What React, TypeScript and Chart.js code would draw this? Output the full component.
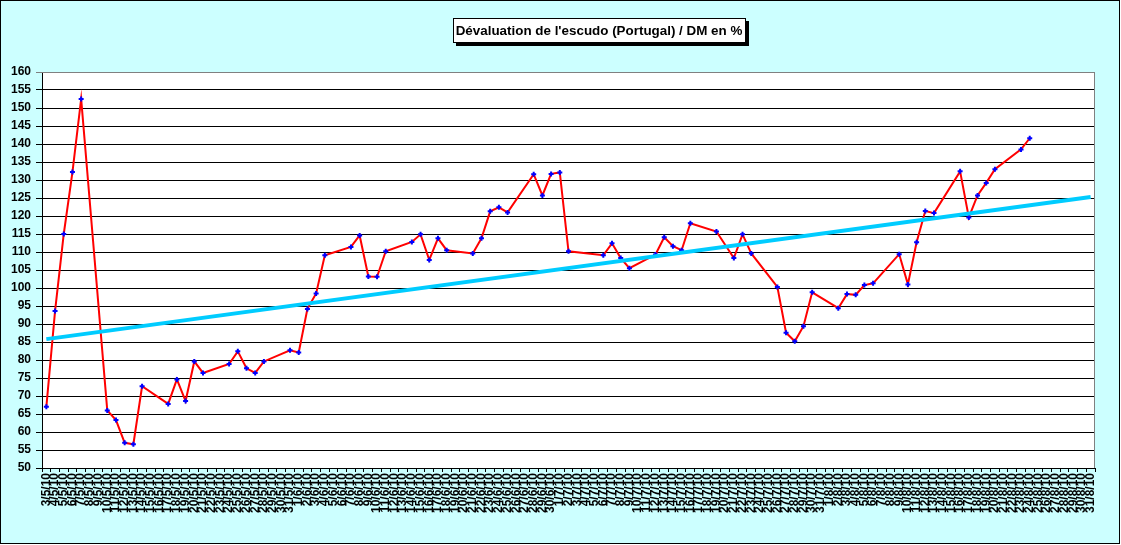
import React, { useEffect, useRef } from 'react';
import { Chart, registerables } from 'chart.js';
import type { Plugin } from 'chart.js';

Chart.register(...registerables);

// day labels, 3/5/10 .. 31/8/10 (one per calendar day)
const monthRanges = [
  { month: 5, first: 3, last: 31 },
  { month: 6, first: 1, last: 30 },
  { month: 7, first: 1, last: 31 },
  { month: 8, first: 1, last: 31 },
];
const dayLabels: string[] = [];
monthRanges.forEach(r => {
  for (let d = r.first; d <= r.last; d++) dayLabels.push(`${d}/${r.month}/10`);
});

// devaluation in %, one row per week (Mon..Sun), weekends empty
const devaluation: (number | null)[] = [
  67, 93.6, 115, 132.2, 152.5, null, null,
  66, 63.3, 57, 56.6, 72.7, null, null,
  67.8, 74.6, 68.6, 79.6, 76.4, null, null,
  78.9, 82.4, 77.7, 76.4, 79.6, null, null,
  82.7, 82.1, 94.2, 98.5, 109.1, null, null,
  111.4, 114.6, 103.2, 103.1, 110.2, null, null,
  112.8, 114.9, 107.8, 113.8, 110.5, null, null,
  109.6, 113.8, 121.3, 122.4, 121, null, null,
  131.6, 125.7, 131.7, 132.1, 110.2, null, null,
  null, 109.1, 112.4, 108.3, 105.5, null, null,
  109.3, 114.1, 111.6, 110.5, 118, null, null,
  115.7, null, 108.3, 114.9, 109.6, null, null,
  100.3, 87.6, 85.2, 89.4, 98.8, null, null,
  94.4, 98.3, 98.1, 100.8, 101.3, null, null,
  109.4, 101, 112.7, 121.4, 120.8, null, null,
  132.4, 119.6, 125.7, 129.2, 133, null, null,
  138.5, 141.6, null, null, null, null, null,
  null, null,
];

// linear trend, only its two ends
const trendStart = 85.8;
const trendEnd = 125.3;
const trend: (number | null)[] = dayLabels.map((_, i) =>
  i === 0 ? trendStart : i === dayLabels.length - 1 ? trendEnd : null
);

const yMin = 50;
const yMax = 160;
const yStep = 5;

const titleText = "Dévaluation de l'escudo (Portugal) / DM en %";
const FONT = '"Liberation Sans", Arial, sans-serif';

// excel-like frame: cyan chart area, white plot, boxed title with shadow
const framePlugin: Plugin<'line'> = {
  id: 'framePlugin',
  beforeDraw: (chart) => {
    const { ctx, chartArea } = chart;
    ctx.save();
    ctx.fillStyle = '#ffffff';
    ctx.fillRect(0, 0, chart.width, chart.height);
    ctx.fillStyle = '#ccffff';
    ctx.fillRect(0, 0, 1120, 544);
    ctx.strokeStyle = '#000';
    ctx.lineWidth = 1;
    ctx.strokeRect(0.5, 0.5, 1119, 543);
    ctx.fillStyle = '#ffffff';
    ctx.fillRect(chartArea.left, chartArea.top, chartArea.right - chartArea.left, chartArea.bottom - chartArea.top);
    ctx.restore();
  },
  afterDraw: (chart) => {
    const { ctx, chartArea } = chart;
    ctx.save();
    // gray top/right plot border
    ctx.strokeStyle = '#808080';
    ctx.lineWidth = 1;
    ctx.beginPath();
    ctx.moveTo(chartArea.left, chartArea.top + 0.5);
    ctx.lineTo(chartArea.right - 0.5, chartArea.top + 0.5);
    ctx.lineTo(chartArea.right - 0.5, chartArea.bottom);
    ctx.stroke();

    // title box
    ctx.font = `bold 13.4px ${FONT}`;
    const w = Math.ceil(ctx.measureText(titleText).width) + 6;
    const h = 25;
    const cx = 599;
    const x = Math.round(cx - w / 2);
    const y = 18;
    ctx.fillStyle = '#000';
    ctx.fillRect(x + 3, y + 3, w, h);
    ctx.fillStyle = '#fff';
    ctx.fillRect(x, y, w, h);
    ctx.strokeStyle = '#000';
    ctx.strokeRect(x + 0.5, y + 0.5, w - 1, h - 1);
    ctx.fillStyle = '#000';
    ctx.textAlign = 'center';
    ctx.textBaseline = 'middle';
    ctx.fillText(titleText, cx, y + h / 2 + 1);
    ctx.restore();
  },
};

const App: React.FC = () => {
  const canvasRef = useRef<HTMLCanvasElement>(null);
  const chartRef = useRef<Chart | null>(null);

  useEffect(() => {
    document.body.style.margin = '0';
    const ctx = canvasRef.current?.getContext('2d');
    if (!ctx) return;
    if (chartRef.current) chartRef.current.destroy();

    chartRef.current = new Chart(ctx, {
      type: 'line',
      data: {
        labels: dayLabels,
        datasets: [
          {
            label: 'Dévaluation',
            data: devaluation,
            borderColor: '#ff0000',
            borderWidth: 2,
            pointStyle: 'cross',
            pointRadius: 2.5,
            pointBorderWidth: 2,
            pointBorderColor: '#0000ff',
            pointBackgroundColor: '#0000ff',
            spanGaps: true,
            tension: 0,
            order: 2,
          },
          {
            label: 'Tendance',
            data: trend,
            borderColor: '#00ccff',
            borderWidth: 4,
            pointRadius: 0,
            spanGaps: true,
            tension: 0,
            order: 1,
          },
        ],
      },
      options: {
        animation: false,
        responsive: false,
        devicePixelRatio: 1,
        layout: { padding: { top: 72, right: 26, bottom: 2, left: 0 } },
        plugins: {
          legend: { display: false },
          tooltip: { enabled: false },
        },
        scales: {
          x: {
            type: 'category',
            offset: true,
            afterFit: (scale) => { scale.height = 75; },
            grid: {
              offset: true,
              drawOnChartArea: false,
              drawTicks: true,
              tickLength: 4,
              color: '#000',
            },
            border: { color: '#000', width: 1 },
            ticks: {
              autoSkip: false,
              maxRotation: 90,
              minRotation: 90,
              padding: 1,
              color: '#000',
              font: { family: FONT, size: 12, weight: 'bold' },
            },
          },
          y: {
            min: yMin,
            max: yMax,
            afterFit: (scale) => { scale.width = 42; },
            grid: {
              color: (c) => (c.tick && c.tick.value === yMax ? '#808080' : '#000'),
              tickLength: 6,
              lineWidth: 1,
            },
            border: { color: '#000', width: 1 },
            ticks: {
              stepSize: yStep,
              padding: 5,
              color: '#000',
              font: { family: FONT, size: 12, weight: 'bold' },
            },
          },
        },
      },
      plugins: [framePlugin],
    });

    return () => {
      if (chartRef.current) {
        chartRef.current.destroy();
        chartRef.current = null;
      }
    };
  }, []);

  return (
    <div style={{ width: 1121, height: 545 }}>
      <canvas ref={canvasRef} width={1121} height={545} />
    </div>
  );
};

export default App;
